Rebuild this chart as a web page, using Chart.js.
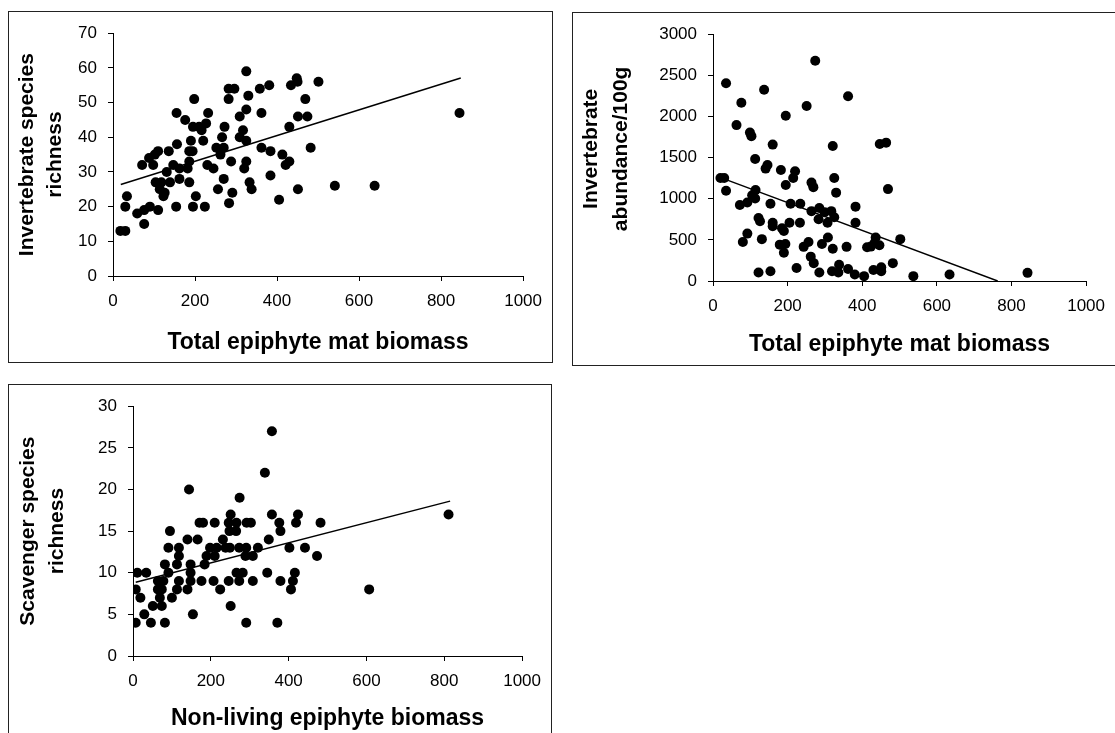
<!DOCTYPE html>
<html>
<head>
<meta charset="utf-8">
<script src="https://cdn.jsdelivr.net/npm/chart.js@4.4.1/dist/chart.umd.min.js"></script>
<style>
html, body { margin: 0; padding: 0; background: #fff; width: 1115px; height: 733px; overflow: hidden; }
.panel { position: absolute; border: 1px solid #222; background: #fff; }
.panel canvas { display: block; }
</style>
</head>
<body>
<div class="panel" style="left:8px;top:11px;width:543px;height:350px;"><canvas id="chart_richness" width="543" height="350"></canvas></div>
<div class="panel" style="left:572px;top:12px;width:560px;height:352px;"><canvas id="chart_abundance" width="542" height="352"></canvas></div>
<div class="panel" style="left:8px;top:384px;width:542px;height:370px;"><canvas id="chart_scavenger" width="542" height="348"></canvas></div>
<script>
// invertebrate species richness vs total epiphyte mat biomass
var richBiomass = [18,30,34,30,59,76,76,90,110,71,88,98,102,110,104,118,114,123,126,131,139,136,147,156,162,162,154,155,176,186,182,186,190,194,186,195,198,195,210,216,220,227,232,202,224,230,245,256,252,262,266,270,272,270,282,296,282,288,283,291,309,309,317,325,330,325,325,325,320,333,338,362,358,381,362,384,384,405,413,421,430,430,434,448,450,451,451,469,474,482,501,541,638,845];
var richSpecies = [13,13,23,20,18,15,19,20,19,32,34,32,35,36,27,27,25,23,24,30,27,36,32,38,31,28,20,47,45,36,31,33,39,36,27,20,51,43,43,42,39,44,47,23,20,32,31,25,37,35,40,37,43,28,54,54,51,33,21,24,46,40,42,59,52,48,39,33,31,27,25,47,54,55,37,36,29,22,35,32,33,43,55,57,56,46,25,51,46,37,56,26,26,47];
var richTrendX = [19, 848];
var richTrendY = [26.4, 57.1];

// invertebrate abundance/100g vs total epiphyte mat biomass
var abundBiomass = [35,137,274,76,362,251,195,63,99,103,160,321,447,464,113,146,141,182,220,215,20,30,325,264,269,195,469,35,330,114,113,105,92,72,154,208,234,382,264,285,299,317,325,283,307,382,122,126,160,160,205,233,185,190,92,80,131,179,194,190,243,256,292,308,321,358,413,423,436,433,446,502,262,270,224,122,154,285,319,336,338,362,380,405,430,451,451,482,537,634,843];
var abundValues = [2404,2325,2677,2167,2246,2128,2009,1895,1804,1761,1658,1642,1666,1682,1484,1409,1366,1350,1334,1251,1251,1251,1251,1196,1141,1168,1117,1097,1074,1105,1003,1042,955,924,940,940,940,904,849,888,837,849,774,750,707,707,766,726,707,667,707,707,640,608,576,474,509,442,450,343,415,474,450,529,391,415,411,418,529,462,434,509,296,217,158,103,118,103,118,103,197,146,79,59,134,166,118,217,59,79,99];
var abundTrendX = [26, 763];
var abundTrendY = [1247, 0];

// scavenger species richness vs non-living epiphyte biomass
var scavBiomass = [7,46,82,291,371,29,154,51,74,251,19,69,100,7,64,74,113,140,224,406,607,64,78,118,148,176,207,246,273,308,379,411,11,34,91,148,266,282,345,416,82,113,148,184,118,189,210,289,308,473,91,118,198,215,238,249,273,291,321,402,442,140,166,231,349,95,248,265,379,171,180,210,246,266,292,303,376,419,482,251,357,424,811,274,144,339,357];
var scavSpecies = [4,4,4,4,4,5,5,6,6,6,7,7,7,8,8,8,8,8,8,8,8,9,9,9,9,9,9,9,9,9,9,9,10,10,10,10,10,10,10,10,11,11,11,11,12,12,12,12,12,12,13,13,13,13,13,13,13,13,13,13,13,14,14,14,14,15,15,15,15,16,16,16,16,16,16,16,16,16,16,17,17,17,17,19,20,22,27];
var scavTrendX = [7, 815];
var scavTrendY = [8.85, 18.6];

var fontFamily = "'Liberation Sans', Arial, Helvetica, sans-serif";

var toPoints = function (xs, ys) {
    var out = [];
    for (let i = 0; i < xs.length; i++) {
        out.push({x: xs[i], y: ys[i]});
    }
    return out;
};

var makePanel = function (canvasId, p) {
    return new Chart(canvasId, {
        type: 'scatter',
        data: {
            datasets: [
                {
                    data: toPoints(p.xs, p.ys),
                    backgroundColor: '#000',
                    borderWidth: 0,
                    pointRadius: 5,
                    pointHoverRadius: 5
                },
                {
                    data: toPoints(p.tx, p.ty),
                    showLine: true,
                    fill: false,
                    borderColor: '#000',
                    borderWidth: 1.5,
                    pointRadius: 0
                }
            ]
        },
        options: {
            responsive: false,
            animation: false,
            events: [],
            layout: {padding: p.pad},
            plugins: {legend: {display: false}, tooltip: {enabled: false}},
            scales: {
                x: {
                    type: 'linear',
                    position: 'bottom',
                    min: 0,
                    max: 1000,
                    ticks: {
                        stepSize: 200,
                        color: '#000',
                        padding: 10,
                        maxRotation: 0,
                        font: {family: fontFamily, size: 17},
                        callback: function (v) { return String(v); }
                    },
                    grid: {drawOnChartArea: false, drawTicks: true, tickLength: 5, color: '#000'},
                    border: {color: '#000', width: 1},
                    title: {
                        display: true,
                        text: p.xTitle,
                        color: '#000',
                        padding: 0,
                        font: {family: fontFamily, size: 23, weight: 'bold', lineHeight: 1.2}
                    },
                    afterFit: function (scale) { scale.height = p.xHeight; }
                },
                y: {
                    type: 'linear',
                    min: 0,
                    max: p.yMax,
                    ticks: {
                        stepSize: p.yStep,
                        color: '#000',
                        padding: 11,
                        font: {family: fontFamily, size: 17},
                        callback: function (v) { return String(v); }
                    },
                    grid: {drawOnChartArea: false, drawTicks: true, tickLength: 5, color: '#000'},
                    border: {color: '#000', width: 1},
                    title: {
                        display: true,
                        text: p.yTitle,
                        color: '#000',
                        padding: {top: p.yTitlePad, bottom: 0},
                        font: {family: fontFamily, size: 21, weight: 'bold', lineHeight: p.yTitleLine}
                    },
                    afterFit: function (scale) { scale.width = p.yWidth; }
                }
            }
        }
    });
};

makePanel('chart_richness', {
    xs: richBiomass, ys: richSpecies, tx: richTrendX, ty: richTrendY,
    xTitle: 'Total epiphyte mat biomass',
    yTitle: ['Invertebrate species', 'richness'],
    yMax: 70, yStep: 10,
    yWidth: 104, xHeight: 80,
    yTitlePad: 4, yTitleLine: 28 / 21,
    pad: {left: 0, top: 17, right: 22, bottom: 6}
});

makePanel('chart_abundance', {
    xs: abundBiomass, ys: abundValues, tx: abundTrendX, ty: abundTrendY,
    xTitle: 'Total epiphyte mat biomass',
    // leading spaces lift the title a little above the axis centre, as in the original
    yTitle: ['   Invertebrate', '   abundance/100g'],
    yMax: 3000, yStep: 500,
    yWidth: 140, xHeight: 77,
    yTitlePad: 3, yTitleLine: 30 / 21,
    pad: {left: 0, top: 14, right: 21, bottom: 7}
});

makePanel('chart_scavenger', {
    xs: scavBiomass, ys: scavSpecies, tx: scavTrendX, ty: scavTrendY,
    xTitle: 'Non-living epiphyte biomass',
    yTitle: ['Scavenger species', 'richness'],
    yMax: 30, yStep: 5,
    yWidth: 124, xHeight: 76,
    yTitlePad: 4, yTitleLine: 29.5 / 21,
    pad: {left: 0, top: 17, right: 21, bottom: 1}
});
</script>
</body>
</html>
